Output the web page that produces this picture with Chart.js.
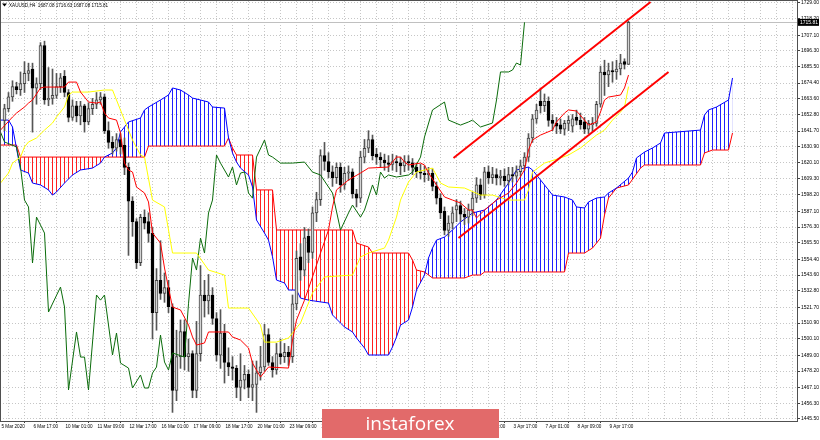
<!DOCTYPE html>
<html>
<head>
<meta charset="utf-8">
<script src="https://cdn.jsdelivr.net/npm/chart.js@4.4.1/dist/chart.umd.min.js"></script>
<style>
  html, body { margin: 0; padding: 0; background: #fff; }
  canvas { display: block; }
</style>
</head>
<body>
<canvas id="chart" width="820" height="440"></canvas>
<script>
// header of the MT4 window
const symbolTitle = 'XAUUSD,H4  1687.08 1716.63 1687.08 1715.81';
const watermark = 'instaforex';

// one label every 8 H4 bars, first one sits at bar -1
const timeLabels = ['5 Mar 2020', '6 Mar 17:00', '10 Mar 01:00', '11 Mar 09:00', '12 Mar 17:00',
  '16 Mar 01:00', '17 Mar 09:00', '18 Mar 17:00', '20 Mar 01:00', '23 Mar 09:00', '24 Mar 17:00',
  '26 Mar 01:00', '27 Mar 09:00', '30 Mar 17:00', '1 Apr 01:00', '2 Apr 09:00', '3 Apr 17:00',
  '7 Apr 01:00', '8 Apr 09:00', '9 Apr 17:00'];

const yTickValues = [1729.00, 1718.20, 1707.10, 1696.30, 1685.50, 1674.40, 1663.60, 1652.80, 1641.70,
  1630.90, 1620.10, 1609.30, 1598.20, 1587.10, 1576.30, 1565.50, 1554.40, 1543.60, 1532.80, 1521.70,
  1510.90, 1500.10, 1489.00, 1478.20, 1467.10, 1456.30, 1445.50];

// candles, bar 0 .. 156
const opens = [1649,1657,1665,1672,1670,1674,1681,1684,1671,1674,1700,1663,1664,1666,1672,1679,1668,1651,1659,1652,
  1659,1648,1657,1660,1663,1665,1642,1634,1630,1636,1632,1617,1594,1580,1552,1583,1580,1572,1518,1540,
  1531,1535,1522,1465,1488,1505,1488,1490,1465,1490,1530,1526,1530,1514,1489,1504,1484,1481,1480,1467,
  1472,1476,1467,1469,1477,1481,1503,1484,1479,1490,1488,1491,1488,1524,1556,1547,1570,1559,1586,1595,
  1625,1621,1614,1610,1617,1605,1613,1614,1599,1596,1624,1630,1636,1626,1624,1622,1620,1619,1621,1620,
  1618,1621,1620,1617,1614,1613,1612,1613,1604,1596,1587,1574,1579,1588,1591,1585,1583,1588,1596,1605,
  1598,1614,1610,1612,1610,1611,1608,1612,1611,1614,1618,1624,1637,1650,1662,1659,1662,1649,1647,1646,
  1643,1647,1645,1651,1649,1648,1643,1646,1647,1660,1682,1680,1683,1682,1684,1689,1687.08];
const highs = [1660,1668,1676,1675,1682,1689,1688,1688,1678,1702,1703,1685,1684,1681,1681,1683,1670,1663,1662,1662,
  1660,1661,1664,1668,1668,1667,1648,1638,1640,1640,1637,1620,1597,1582,1585,1588,1586,1576,1548,1567,
  1545,1540,1524,1506,1513,1513,1500,1492,1512,1550,1540,1544,1535,1518,1520,1510,1494,1488,1482,1490,
  1482,1479,1485,1485,1495,1510,1507,1488,1497,1500,1497,1495,1530,1560,1565,1576,1575,1590,1600,1629,
  1634,1627,1618,1620,1620,1617,1618,1616,1602,1628,1636,1642,1639,1630,1627,1626,1625,1626,1625,1624,
  1625,1625,1623,1620,1619,1618,1617,1616,1607,1599,1590,1584,1590,1595,1594,1589,1592,1600,1610,1609,
  1617,1618,1617,1616,1615,1616,1617,1617,1618,1622,1627,1640,1653,1660,1671,1667,1665,1653,1651,1650,
  1649,1652,1653,1656,1654,1651,1649,1651,1662,1686,1690,1688,1689,1690,1694,1691,1716.63];
const lows = [1642,1655,1662,1667,1666,1668,1676,1641,1660,1670,1660,1659,1660,1664,1668,1665,1648,1649,1648,1646,
  1641,1646,1653,1657,1660,1640,1630,1626,1628,1626,1612,1557,1570,1548,1550,1575,1566,1500,1506,1527,
  1525,1518,1450,1458,1480,1479,1478,1460,1460,1485,1515,1517,1510,1485,1480,1470,1475,1472,1460,1458,
  1466,1460,1458,1450,1472,1478,1482,1474,1476,1483,1484,1482,1484,1520,1540,1543,1552,1555,1580,1591,
  1615,1610,1604,1606,1600,1602,1608,1596,1590,1593,1620,1627,1622,1619,1617,1615,1614,1615,1614,1612,
  1614,1615,1612,1610,1609,1607,1608,1601,1592,1582,1571,1570,1575,1580,1580,1578,1579,1584,1593,1595,
  1596,1606,1606,1605,1605,1604,1605,1607,1609,1611,1615,1621,1634,1647,1654,1655,1645,1642,1640,1640,
  1639,1642,1641,1646,1643,1640,1640,1642,1645,1658,1666,1672,1675,1677,1680,1684,1687.08];
const closes = [1657,1665,1672,1670,1674,1681,1683,1671,1674,1700,1663,1664,1666,1672,1678,1668,1651,1659,1652,1659,
  1648,1657,1660,1663,1665,1642,1634,1630,1636,1631,1617,1594,1580,1552,1583,1579,1572,1518,1540,1531,
  1535,1522,1465,1488,1505,1488,1490,1465,1490,1530,1526,1530,1514,1489,1504,1484,1481,1480,1467,1472,
  1476,1467,1469,1477,1481,1503,1484,1479,1490,1488,1491,1488,1524,1555,1547,1569,1559,1586,1595,1625,
  1621,1614,1610,1617,1605,1613,1614,1599,1596,1624,1630,1636,1625,1624,1622,1620,1619,1621,1620,1618,
  1621,1620,1617,1614,1613,1612,1613,1604,1596,1586,1574,1579,1586,1591,1585,1583,1588,1596,1605,1598,
  1614,1610,1612,1610,1611,1608,1612,1611,1614,1618,1624,1637,1650,1656,1659,1662,1649,1647,1645,1643,
  1647,1649,1650,1649,1646,1643,1647,1647,1660,1682,1680,1683,1682,1684,1688,1687.08,1715.81];

// Ichimoku lines as [bar, price] vertices
const tenkan = [[-1,1642.4],[2,1651.3],[3,1654.0],[5,1658.1],[6,1660.8],[7,1662.9],[9,1671.1],[10,1671.7],[15,1671.7],
  [16,1675.1],[18,1675.1],[19,1668.3],[21,1661.5],[23,1660.8],[24,1661.5],[25,1654.0],[26,1650.6],[28,1649.2],
  [29,1640.4],[30,1619.9],[31,1615.2],[32,1613.8],[33,1603.6],[35,1599.5],[36,1593.4],[37,1572.2],[39,1565.4],
  [40,1548.4],[41,1534.8],[42,1521.8],[44,1519.8],[46,1509.5],[47,1501.4],[48,1495.9],[50,1497.3],[51,1504.8],
  [56,1504.8],[57,1501.4],[59,1499.3],[61,1493.9],[62,1483.6],[64,1474.1],[66,1480.9],[71,1480.2],[72,1499.3],
  [73,1512.9],[75,1526.5],[77,1542.3],[79,1558.6],[81,1574.3],[82,1590.0],[83,1601.6],[86,1608.4],[89,1613.1],
  [91,1616.5],[96,1617.2],[98,1624.0],[99,1624.0],[100,1620.6],[101,1618.6],[104,1619.9],[105,1618.6],
  [106,1613.1],[108,1605.0],[110,1596.8],[112,1594.7],[114,1592.7],[116,1587.9],[117,1587.9],[118,1582.5],
  [120,1587.9],[121,1590.0],[123,1594.7],[126,1599.5],[128,1606.3],[130,1615.2],[131,1628.8],[132,1635.6],
  [134,1639.0],[137,1642.4],[138,1647.9],[140,1654.0],[141,1656.1],[143,1655.4],[145,1649.2],[146,1645.8],
  [148,1647.9],[149,1654.7],[150,1662.9],[151,1664.9],[154,1666.3],[155,1671.1],[156,1679.9]];
const kijun = [[-1,1606.3],[1,1613.1],[2,1619.9],[4,1624.0],[5,1630.9],[6,1634.3],[8,1637.0],[10,1642.4],[12,1647.2],
  [13,1651.3],[15,1658.1],[16,1666.3],[17,1668.3],[21,1668.3],[25,1669.7],[27,1669.7],[30,1649.2],[32,1635.6],
  [34,1625.4],[35,1624.0],[37,1594.7],[40,1590.0],[42,1558.6],[48,1558.6],[51,1547.0],[55,1543.6],[56,1521.1],
  [61,1521.1],[64,1509.5],[65,1497.9],[68,1497.9],[71,1500.7],[74,1510.9],[77,1531.4],[80,1542.3],[87,1543.6],
  [89,1555.9],[91,1558.6],[95,1562.0],[96,1567.4],[98,1583.1],[99,1594.7],[101,1607.0],[103,1613.8],[107,1616.5],
  [109,1606.3],[111,1603.6],[115,1602.9],[119,1598.1],[122,1598.1],[126,1594.7],[130,1594.7],[131,1601.6],
  [132,1613.8],[135,1619.9],[139,1623.4],[141,1625.4],[144,1630.2],[148,1639.0],[150,1642.4],[152,1649.2],
  [154,1654.7],[155,1658.0],[156,1672.0]];
const spanA = [[-1,1649.2],[1,1649.2],[2,1644.5],[3,1630.0],[4,1615.2],[6,1613.1],[7,1606.3],[9,1605.0],[11,1601.6],
  [12,1598.1],[13,1600.2],[15,1606.3],[17,1611.8],[19,1615.2],[22,1616.5],[24,1619.9],[25,1624.0],[27,1626.8],
  [28,1630.2],[29,1641.1],[31,1647.9],[34,1650.6],[35,1656.1],[36,1658.1],[39,1662.9],[41,1666.3],[42,1671.1],
  [44,1669.7],[46,1666.3],[47,1664.2],[49,1662.9],[51,1661.5],[52,1658.1],[55,1657.4],[56,1637.0],[57,1626.8],
  [58,1620.6],[59,1616.5],[61,1611.8],[62,1603.6],[63,1581.1],[65,1572.2],[66,1567.4],[67,1556.0],[68,1540.2],
  [70,1538.2],[71,1533.4],[73,1533.4],[74,1527.9],[76,1526.5],[81,1524.5],[82,1516.4],[84,1510.9],[85,1508.2],
  [87,1504.8],[88,1500.7],[90,1493.9],[91,1489.1],[96,1489.1],[97,1494.6],[98,1501.4],[99,1509.5],[101,1512.9],
  [102,1521.8],[103,1533.4],[105,1543.6],[106,1555.2],[107,1562.0],[108,1567.4],[110,1569.5],[112,1574.3],
  [114,1579.7],[117,1585.9],[120,1587.9],[123,1594.7],[126,1606.3],[128,1615.2],[131,1617.2],[132,1615.2],
  [134,1608.4],[136,1601.6],[137,1598.1],[140,1596.8],[142,1594.7],[143,1590.0],[145,1589.3],[146,1593.4],
  [148,1596.1],[150,1596.8],[151,1599.5],[153,1602.9],[156,1609.7],[157,1613.8],[158,1623.4],[160,1627.4],
  [162,1630.2],[164,1633.6],[165,1640.4],[174,1642.4],[175,1652.7],[176,1656.1],[178,1658.1],[181,1662.9],[182,1677.9]];
const spanB = [[-1,1632.2],[3,1632.2],[4,1624.0],[35,1624.0],[36,1631.5],[55,1631.5],[56,1637.0],[57,1630.2],
  [58,1625.4],[62,1625.4],[63,1601.6],[67,1601.6],[68,1574.3],[87,1574.3],[88,1565.4],[91,1562.7],[92,1558.6],
  [101,1558.6],[102,1553.9],[103,1547.0],[105,1545.7],[107,1541.6],[115,1541.6],[117,1543.6],[119,1543.6],
  [120,1545.7],[140,1545.7],[141,1558.6],[145,1558.6],[147,1562.0],[149,1568.8],[150,1584.5],[151,1596.1],
  [153,1602.9],[156,1605.0],[159,1616.5],[160,1618.6],[174,1618.6],[175,1626.8],[177,1628.8],[181,1628.8],[182,1640.4]];
const chikou = [[-1,1641.0],[0,1634.3],[3,1630.9],[4,1617.2],[5,1594.7],[6,1590.0],[7,1551.8],[8,1583.1],[10,1572.2],
  [11,1518.4],[14,1535.4],[15,1521.8],[16,1465.3],[18,1504.8],[19,1487.7],[20,1487.7],[21,1465.3],[23,1530.0],
  [24,1526.5],[25,1530.0],[27,1489.1],[28,1504.1],[29,1483.6],[31,1480.2],[32,1466.6],[34,1475.5],[35,1466.6],
  [36,1466.6],[37,1476.8],[38,1480.9],[39,1502.7],[40,1484.3],[41,1478.9],[42,1490.5],[45,1487.7],[46,1524.0],
  [47,1555.2],[48,1547.0],[49,1568.8],[50,1558.6],[51,1585.9],[52,1594.7],[53,1625.4],[54,1619.9],[56,1610.4],
  [57,1617.2],[58,1605.0],[59,1613.1],[60,1613.8],[61,1599.5],[62,1596.0],[63,1624.0],[65,1635.6],[66,1625.4],
  [67,1624.0],[69,1619.9],[72,1619.9],[75,1620.6],[77,1613.8],[79,1611.8],[82,1599.5],[84,1574.3],[86,1585.9],
  [87,1591.3],[89,1583.1],[90,1587.9],[92,1605.0],[93,1598.1],[94,1613.8],[95,1609.7],[96,1611.8],[98,1610.4],
  [101,1611.8],[102,1613.8],[104,1624.0],[105,1637.7],[107,1656.1],[110,1661.5],[111,1649.2],[114,1645.8],
  [116,1647.9],[117,1649.2],[119,1644.5],[122,1647.2],[123,1662.9],[124,1682.0],[126,1682.0],[127,1683.3],
  [128,1688.1],[129,1686.7],[130,1715.8]];

// hand drawn trend channel
const channelUpper = [[112.25, 1623.4], [161.5, 1729.7]];
const channelLower = [[113.5, 1568.8], [166, 1682.0]];

const lastClose = closes[closes.length - 1];
const bull = closes.map((c, i) => c >= opens[i]);

function hatch(color) {
  const c = document.createElement('canvas');
  c.width = 4; c.height = 1;
  const g = c.getContext('2d');
  g.fillStyle = color;
  g.fillRect(0, 0, 1, 1);
  return g.createPattern(c, 'repeat');
}

const pts = arr => arr.map(([x, y]) => ({x, y}));
const line = (arr, color, width, order, extra) => Object.assign({
  type: 'line', data: pts(arr), borderColor: color, borderWidth: width,
  pointRadius: 0, tension: 0, fill: false, order
}, extra || {});

const overlay = {
  id: 'overlay',
  beforeDatasetsDraw(chart) {
    const {ctx, chartArea: a, scales: {y}} = chart;
    const py = Math.round(y.getPixelForValue(lastClose)) + 0.5;
    ctx.save();
    ctx.strokeStyle = '#c0c0c0';
    ctx.lineWidth = 1;
    ctx.beginPath();
    ctx.moveTo(a.left, py);
    ctx.lineTo(a.right, py);
    ctx.stroke();
    ctx.restore();
  },
  afterDraw(chart) {
    const {ctx, chartArea: a, scales: {y}} = chart;
    ctx.save();
    // frame
    ctx.strokeStyle = '#505050';
    ctx.lineWidth = 1;
    ctx.strokeRect(a.left + 0.5, a.top - 0.5, a.right - a.left, a.bottom - a.top + 1);

    // bid price box
    const py = y.getPixelForValue(lastClose);
    ctx.fillStyle = '#000';
    ctx.fillRect(a.right + 1, py - 3.5, 21, 7);
    ctx.fillStyle = '#fff';
    ctx.font = '5px "Liberation Sans"';
    ctx.textBaseline = 'middle';
    ctx.textAlign = 'left';
    ctx.fillText(lastClose.toFixed(2), a.right + 3, py + 0.3);

    // symbol header
    ctx.fillStyle = '#000';
    ctx.beginPath();
    ctx.moveTo(2, 3.5); ctx.lineTo(7, 3.5); ctx.lineTo(4.5, 6.5);
    ctx.fill();
    ctx.font = '4.6px "Liberation Sans"';
    ctx.fillText(symbolTitle, 9, 5.5);

    // watermark banner
    ctx.fillStyle = 'rgb(226,106,106)';
    ctx.fillRect(322, 409, 177, 29);
    ctx.fillStyle = '#fff';
    ctx.font = '19px "Open Sans"';
    ctx.textAlign = 'center';
    ctx.textBaseline = 'alphabetic';
    ctx.fillText(watermark, 410, 430);
    ctx.restore();
  }
};

const labelTick = v => (v + 1) % 8 === 0 && (v + 1) / 8 < timeLabels.length;

new Chart(document.getElementById('chart'), {
  type: 'line',
  data: {
    datasets: [
      line(spanA, '#0000ff', 1, 6, {fill: {target: 1, above: hatch('#1f1fff'), below: hatch('#ff2020')}}),
      line(spanB, '#ff0000', 1, 6),
      {type: 'bar', data: closes.map((c, i) => ({x: i, y: [lows[i], highs[i]]})),
        backgroundColor: '#555', barThickness: 1, grouped: false, order: 5},
      {type: 'bar', data: closes.map((c, i) => ({x: i, y: [opens[i], c]})),
        backgroundColor: bull.map(b => b ? '#d4d4d4' : '#000'),
        borderColor: bull.map(b => b ? '#444' : '#000'),
        borderWidth: 1, borderSkipped: false, barThickness: 3, minBarLength: 1, grouped: false, order: 4},
      line(chikou, '#0a6b0a', 1, 3),
      line(kijun, '#ffff00', 1, 2),
      line(tenkan, '#ff0000', 1, 1),
      line(channelUpper, '#ff0000', 2, 0),
      line(channelLower, '#ff0000', 2, 0)
    ]
  },
  options: {
    responsive: false,
    devicePixelRatio: 1,
    animation: false,
    events: [],
    layout: {padding: {top: 1, left: 0, right: 0, bottom: 0}},
    plugins: {
      legend: {display: false},
      tooltip: {enabled: false},
      filler: {drawTime: 'beforeDatasetsDraw'}
    },
    scales: {
      x: {
        type: 'linear',
        offset: false,
        min: -1.125,
        max: 198.125,
        afterBuildTicks: s => {
          const t = [];
          for (let v = -1; v <= s.max; v += 4) t.push({value: v});
          s.ticks = t;
        },
        afterFit: s => { s.height = 19; s.paddingLeft = 0; s.paddingRight = 0; },
        grid: {
          color: '#c6c6c6',
          lineWidth: 1,
          drawTicks: true,
          tickLength: 2,
          tickColor: ctx => (ctx.tick && labelTick(ctx.tick.value) ? '#404040' : 'rgba(0,0,0,0)')
        },
        border: {display: false, dash: [1, 2]},
        ticks: {
          autoSkip: false,
          maxRotation: 0,
          align: 'start',
          labelOffset: 1,
          padding: 1,
          color: '#000',
          font: {family: 'Liberation Sans', size: 4.6},
          callback: v => (labelTick(v) ? timeLabels[(v + 1) / 8] : '')
        }
      },
      y: {
        type: 'linear',
        position: 'right',
        min: 1444.13,
        max: 1730.36,
        afterBuildTicks: s => { s.ticks = yTickValues.map(v => ({value: v})); },
        afterFit: s => { s.width = 23; s.paddingTop = 0; s.paddingBottom = 0; },
        grid: {color: '#c6c6c6', lineWidth: 1, tickLength: 3, tickColor: '#404040'},
        border: {display: false, dash: [1, 2]},
        ticks: {
          padding: 1,
          color: '#000',
          font: {family: 'Liberation Sans', size: 5},
          callback: v => v.toFixed(2)
        }
      }
    }
  },
  plugins: [overlay]
});
</script>
</body>
</html>
